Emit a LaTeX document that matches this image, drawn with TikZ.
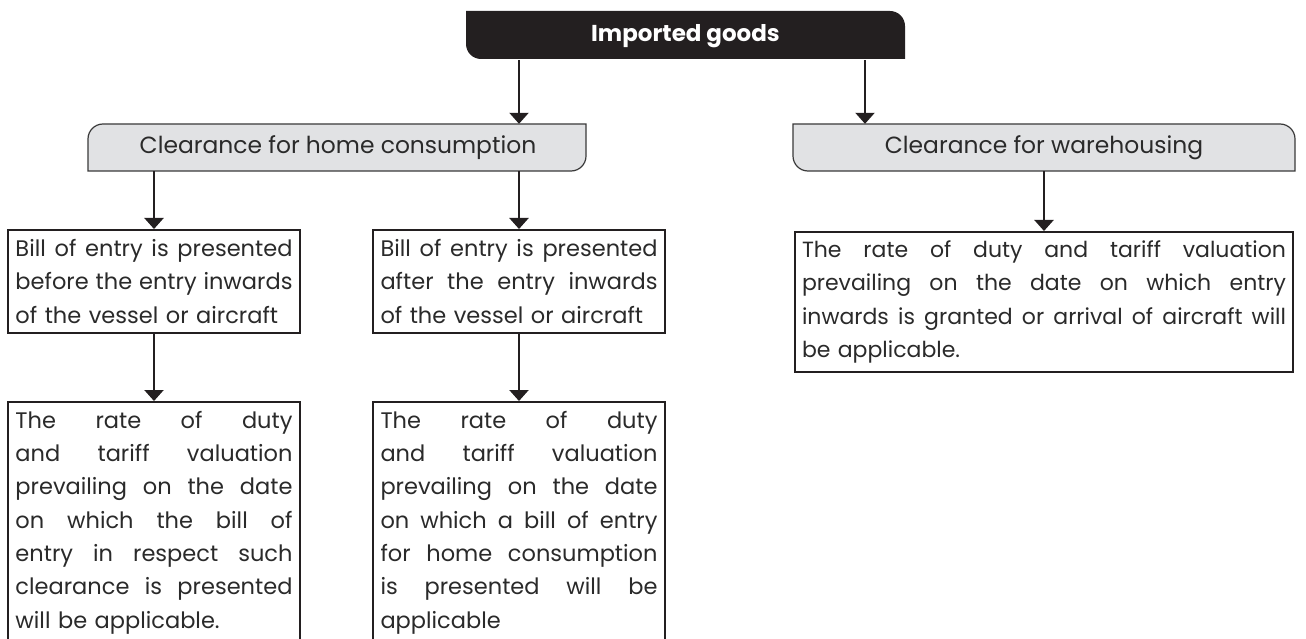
\documentclass[tikz,border=0pt]{standalone}
\usepackage{fontspec}
\setmainfont{Poppins}
\usetikzlibrary{arrows.meta}
\definecolor{ink}{HTML}{231F20}
\definecolor{boxgray}{HTML}{E1E2E4}
\definecolor{edgegray}{HTML}{3A3A3A}
\definecolor{txt}{HTML}{2A2A2A}
\setlength{\parindent}{0pt}
\newcommand{\jl}[1]{\leavevmode\hbox to \hsize{\spaceskip=0.25em plus 1fil minus 0.08em\relax #1}\\}
\tikzset{
  base/.style={font=\fontsize{22.5}{33.3}\selectfont, text=txt},
  textbox/.style={base, draw=ink, line width=2pt, inner xsep=8pt, inner ysep=0pt, align=left},
  tabtext/.style={base, inner sep=0pt, font=\fontsize{23.4}{28}\selectfont},
  tabshape/.style={fill=boxgray, draw=edgegray, line width=1.2pt},
  arr/.style={draw=ink, line width=2.2pt, -{Triangle[width=19pt,length=11pt]}}
}
\begin{document}
\begin{tikzpicture}[x=1pt,y=-1pt]
\useasboundingbox (0,0) rectangle (1306,639);
\fill[white] (0,0) rectangle (1306,639);
% shapes with mixed corners
\fill[ink] (466,11) -- (890,11) arc[start angle=-90,end angle=0,radius=15] -- (905,59) -- (481,59) arc[start angle=90,end angle=180,radius=15] -- cycle;
\filldraw[tabshape] (88,171) -- (88,139) arc[start angle=180,end angle=270,radius=15] -- (586,124) -- (586,156) arc[start angle=0,end angle=90,radius=15] -- cycle;
\filldraw[tabshape] (793,124) -- (1280,124) arc[start angle=-90,end angle=0,radius=15] -- (1295,171) -- (808,171) arc[start angle=90,end angle=180,radius=15] -- cycle;
% nodes
\node[tabtext, minimum width=439pt, minimum height=48pt, text=white, font=\fontsize{23}{27}\selectfont\bfseries] (imp) at (685.5,36) {Imported goods};
\node[tabtext, minimum width=498pt, minimum height=47pt] (home) at (338,147.5) {Clearance for home consumption};
\node[tabtext, minimum width=502pt, minimum height=47pt] (wh) at (1044,147.5) {Clearance for warehousing};
\node[textbox, minimum width=292pt, minimum height=103pt, text width=277pt, inner xsep=7.5pt] (b1) at (154,281.5) {%
\jl{Bill of entry is presented}
\jl{before the entry inwards}
of the vessel or aircraft};
\node[textbox, minimum width=292pt, minimum height=103pt, text width=277pt, inner xsep=7.5pt] (b2) at (519,281.5) {%
\jl{Bill of entry is presented}
\jl{after the entry inwards}
of the vessel or aircraft};
\node[textbox, minimum width=292pt, minimum height=241pt, text width=277pt, inner xsep=7.5pt] (c1) at (154,522.5) {%
\jl{The rate of duty}
\jl{and tariff valuation}
\jl{prevailing on the date}
\jl{on which the bill of}
\jl{entry in respect such}
\jl{clearance is presented}
will be applicable.};
\node[textbox, minimum width=292pt, minimum height=241pt, text width=277pt, inner xsep=7.5pt] (c2) at (519,522.5) {%
\jl{The rate of duty}
\jl{and tariff valuation}
\jl{prevailing on the date}
\jl{on which a bill of entry}
\jl{for home consumption}
\jl{is presented will be}
applicable};
\node[textbox, minimum width=498pt, minimum height=140pt, text width=484pt, inner xsep=7pt, font=\fontsize{22}{33.3}\selectfont] (w1) at (1044,302) {%
\jl{The rate of duty and tariff valuation}
\jl{prevailing on the date on which entry}
\jl{inwards is granted or arrival of aircraft will}
be applicable.};
\coordinate (wx) at (865,0);
% connectors
\draw[arr] (imp.south -| b2.north) -- (home.north -| b2.north);
\draw[arr] (imp.south -| wx) -- (wh.north -| wx);
\draw[arr] (home.south -| b1.north) -- (b1.north);
\draw[arr] (home.south -| b2.north) -- (b2.north);
\draw[arr] (b1.south) -- (c1.north);
\draw[arr] (b2.south) -- (c2.north);
\draw[arr] (wh.south -| w1.north) -- (w1.north);
\end{tikzpicture}
\end{document}
